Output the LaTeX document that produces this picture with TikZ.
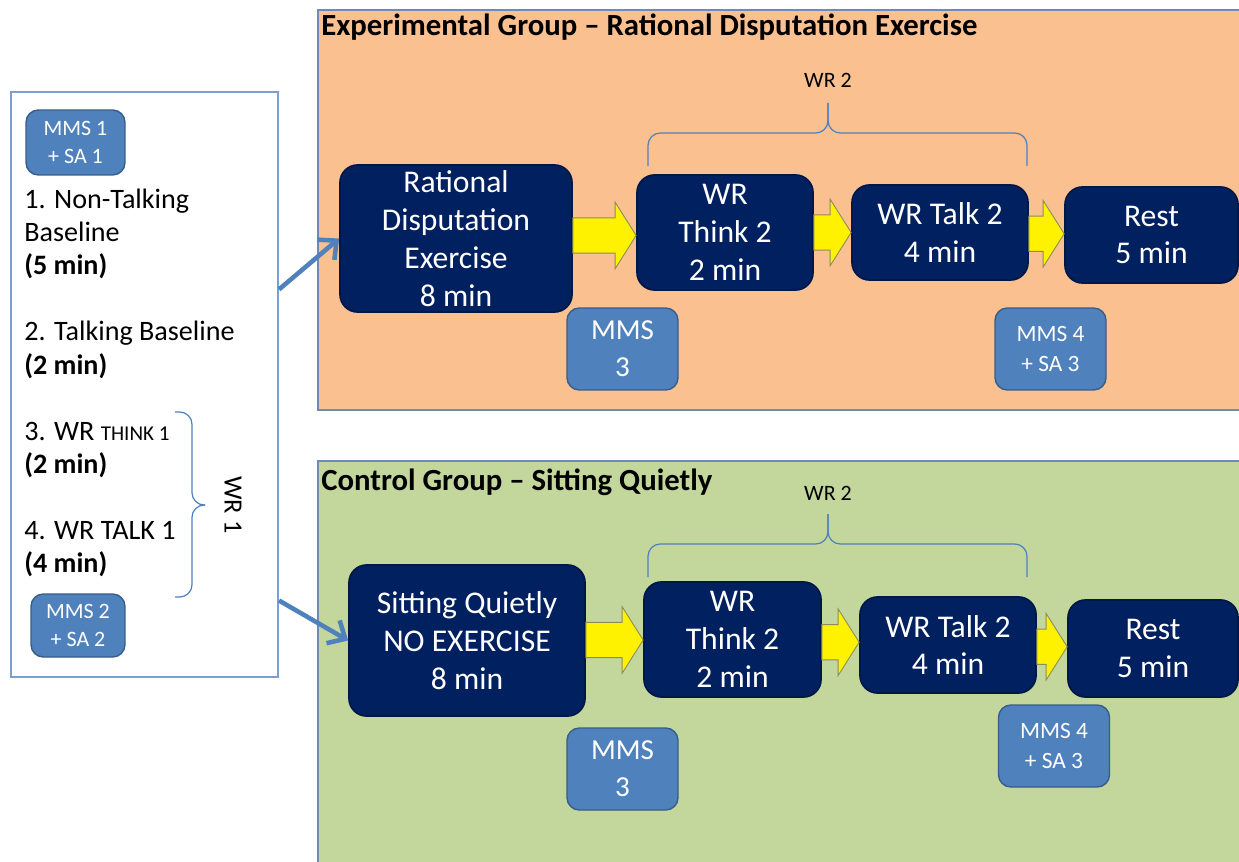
\documentclass[tikz,border=0pt]{standalone}
\usepackage{fontspec}
\setmainfont{Carlito}
\usetikzlibrary{calc,arrows.meta}

\definecolor{navybox}{HTML}{002060}
\definecolor{mmsblue}{HTML}{4F81BD}
\definecolor{mmsline}{HTML}{385D8A}
\definecolor{peach}{HTML}{FAC090}
\definecolor{olivegreen}{HTML}{C3D69B}
\definecolor{panelline}{HTML}{6E8BB8}
\definecolor{leftline}{HTML}{7BA0CD}
\definecolor{arrowline}{HTML}{8C8C5A}

\begin{document}
\begin{tikzpicture} [
            x=0.02cm, y=-0.02cm,
            stepbox/.style={rectangle,rounded corners=10pt,fill=navybox,draw=navybox!75!black,line width=1pt,
                text=white,align=center,inner sep=0pt,font=\fontsize{18}{21.5}\selectfont},
            mmsbox/.style={rectangle,rounded corners=7pt,fill=mmsblue,draw=mmsline,line width=0.8pt,
                text=white,align=center,inner sep=0pt},
            panel/.style={draw=panelline,line width=0.8pt},
            grouptitle/.style={anchor=west,inner sep=0pt,font=\bfseries\fontsize{17.5}{20}\selectfont},
            wrlabel/.style={inner sep=0pt,font=\fontsize{12.5}{15}\selectfont},
            wrbrace/.style={draw=mmsblue,line width=0.7pt,rounded corners=7pt},
            link/.style={draw=mmsblue,line width=2.6pt,-{Straight Barb[length=8pt,width=15pt]}},
            blockarrow/.style={fill=yellow,draw=arrowline,line width=0.5pt},
        ]
        \useasboundingbox (0,0) rectangle (1239,861);

        % group panels
        \path[panel,fill=peach] (318,10) rectangle (1250,410);
        \path[panel,fill=olivegreen] (318,461) rectangle (1250,875);
        \node[grouptitle] (exptitle) at (321,27) {Experimental Group -- Rational Disputation Exercise};
        \node[grouptitle] (ctltitle) at (321,482) {Control Group -- Sitting Quietly};

        % baseline part
        \node[draw=leftline,line width=1.2pt,fill=white,minimum width=5.34cm,minimum height=11.70cm,inner sep=0pt]
            (pre) at (144.5,384.5) {};
        \node[anchor=north west,align=left,inner sep=0pt,font=\fontsize{16}{18.8}\selectfont] (steps) at (24,189) {
            1. Non-Talking\\Baseline\\\textbf{(5 min)}\\[18.8pt]
            2. Talking Baseline\\\textbf{(2 min)}\\[18.8pt]
            3. WR {\fontsize{12}{14}\selectfont THINK 1}\\\textbf{(2 min)}\\[18.8pt]
            4. WR TALK 1\\\textbf{(4 min)}};
        \draw[wrbrace] (175,412) -- (192,412) -- (192,505) -- (205,505);
        \draw[wrbrace] (175,597) -- (192,597) -- (192,505) -- (205,505);
        \node[wrlabel,rotate=-90,font=\fontsize{15}{18}\selectfont] (wr1) at (233,505) {WR 1};

        % steps of each group
        \node[stepbox,minimum width=4.64cm,minimum height=2.94cm] (rde) at (456,238.5) {Rational\\Disputation\\Exercise\\8 min};
        \node[stepbox,minimum width=3.52cm,minimum height=2.30cm] (thinkA) at (725,232.5) {WR\\Think 2\\2 min};
        \node[stepbox,minimum width=3.52cm,minimum height=1.90cm] (talkA) at (940,232.5) {WR Talk 2\\4 min};
        \node[stepbox,minimum width=3.46cm,minimum height=1.92cm] (restA) at (1151.5,235) {Rest\\5 min};

        \node[stepbox,minimum width=4.72cm,minimum height=3.02cm] (sq) at (467,640.5) {Sitting Quietly\\NO EXERCISE\\8 min};
        \node[stepbox,minimum width=3.54cm,minimum height=2.30cm] (thinkB) at (732.5,639.5) {WR\\Think 2\\2 min};
        \node[stepbox,minimum width=3.52cm,minimum height=1.92cm] (talkB) at (948,645) {WR Talk 2\\4 min};
        \node[stepbox,minimum width=3.40cm,minimum height=1.94cm] (restB) at (1153,648.5) {Rest\\5 min};

        % measurement points
        \node[mmsbox,minimum width=1.98cm,minimum height=1.30cm,font=\fontsize{12.5}{15.5}\selectfont] (mms1) at (75.5,142.5) {MMS 1\\+ SA 1};
        \node[mmsbox,minimum width=1.88cm,minimum height=1.26cm,font=\fontsize{12.5}{15.5}\selectfont] (mms2) at (78,625.5) {MMS 2\\+ SA 2};
        \foreach \pos/\name in {{(622.5,349)/mmsA}, {(622.5,769)/mmsB}}
            \node[mmsbox,minimum width=2.22cm,minimum height=1.64cm,font=\fontsize{16.5}{21}\selectfont] (\name) at \pos {MMS\\3};
        \foreach \pos/\name in {{(1050.5,349)/mmsC}, {(1054,746)/mmsD}}
            \node[mmsbox,minimum width=2.22cm,minimum height=1.64cm,font=\fontsize{13.3}{17}\selectfont] (\name) at \pos {MMS 4\\+ SA 3};

        % WR 2 braces
        \node[wrlabel] (wr2A) at (828,80) {WR 2};
        \node[wrlabel] (wr2B) at (828,493) {WR 2};
        \foreach \top/\bot in {103/166, 514/577} {
            \draw[wrbrace] (648,\bot) -- (648,\top+30) -- (828,\top+30) -- (828,\top);
            \draw[wrbrace] (1027,\bot) -- (1027,\top+30) -- (828,\top+30) -- (828,\top);
        }

        % yellow arrows between steps
        \foreach \from/\to in {rde/thinkA,thinkA/talkA,talkA/restA,sq/thinkB,thinkB/talkB,talkB/restB}
            \path[blockarrow] let \p1=(\from.east), \p2=(\to.west), \p3=($(\from.east)!0.5!(\to.west)$) in
                (\x1,\y3+10pt) -- (\x2-12pt,\y3+10pt) -- (\x2-12pt,\y3+19pt) -- (\x2,\y3)
                -- (\x2-12pt,\y3-19pt) -- (\x2-12pt,\y3-10pt) -- (\x1,\y3-10pt) -- cycle;

        % baseline to groups
        \coordinate (preA) at ($(pre.north east)!0.338!(pre.south east)$);
        \coordinate (preB) at ($(pre.north east)!0.868!(pre.south east)$);
        \draw[link] (preA) -- (rde.west);
        \draw[link] (preB) -- (sq.west);
    \end{tikzpicture}
\end{document}
